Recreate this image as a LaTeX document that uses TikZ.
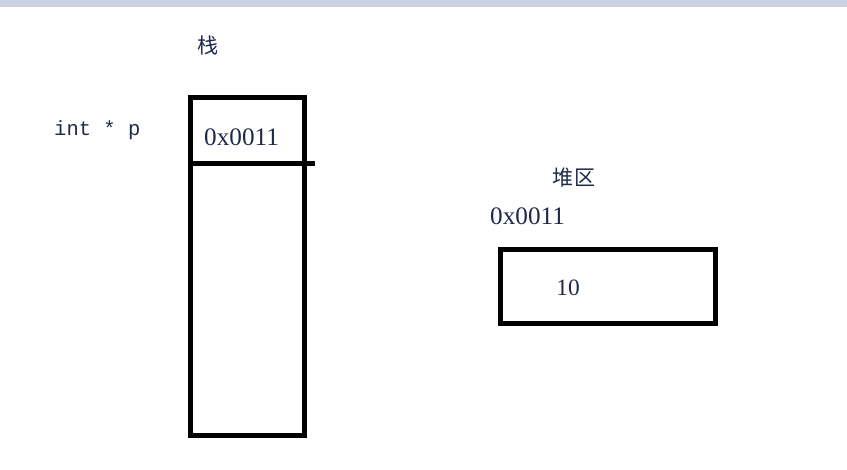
\documentclass[tikz,border=0pt]{standalone}
\usepackage{fontspec}
\setmainfont{Liberation Serif}
\setmonofont{Liberation Mono}
\newfontfamily\cjk{Noto Sans CJK SC}
\usetikzlibrary{positioning}
\tikzset{box/.style = {draw, line width = 1.5mm, inner sep = 0}}
\tikzset{txt/.style = {text = tcol, inner sep = 0, font = \fontsize{21.5}{24}\selectfont}}
\definecolor{tcol}{rgb}{0.12, 0.16, 0.3}
\definecolor{bar}{rgb}{0.79, 0.82, 0.89}

\begin{document}
\begin{tikzpicture}[x=0.3mm, y=-0.3mm]
    \useasboundingbox (0, 0) rectangle (847, 470);
    \fill [bar] (0, 0) rectangle (847, 7);

    % stack
    \node [box, minimum width = 34.2mm, minimum height = 101.4mm] (stack) at (247.5, 266.5) {};
    \coordinate (cellL) at (189.5, 163.5);
    \coordinate (cellR) at (315, 163.5);
    \draw [line width = 1.5mm] (cellL) -- (cellR);
    \node [txt, font = \cjk\fontsize{18}{22}\selectfont] (stacklbl) at (208, 45) {栈};
    \node [txt, font = \ttfamily\fontsize{17.5}{22}\selectfont, anchor = west] (var) at (54, 130) {int * p};
    \node [txt, anchor = west] (addr) at (204, 137) {0x0011};

    % heap
    \node [box, minimum width = 64.5mm, minimum height = 22.2mm] (heap) at (608, 286.5) {};
    \node [txt, font = \cjk\fontsize{18}{22}\selectfont] (heaplbl) at (574, 178) {堆区};
    \node [txt, anchor = west] (haddr) at (490, 216) {0x0011};
    \node [txt, font = \fontsize{20}{22}\selectfont] (val) at (568, 288) {10};
\end{tikzpicture}
\end{document}
